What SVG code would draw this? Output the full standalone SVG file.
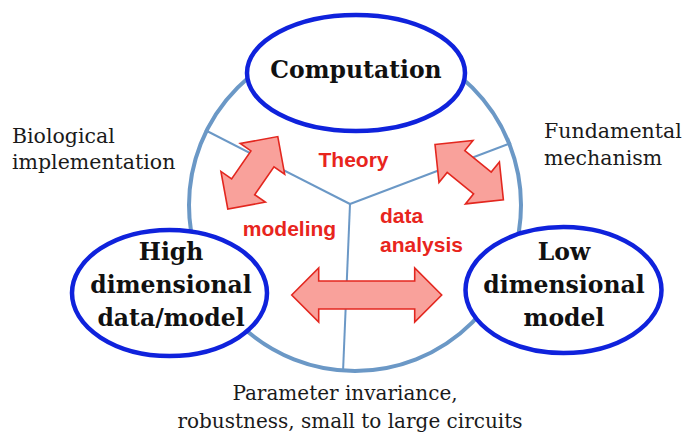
<svg xmlns="http://www.w3.org/2000/svg" width="686" height="440" viewBox="0 0 686 440">
<defs>
<style>
.ring{fill:none;stroke:#6b98c6;stroke-width:4}
.div{fill:none;stroke:#6b98c6;stroke-width:2}
.node{fill:#ffffff;stroke:#0f22dc;stroke-width:4.5}
.arr{fill:#f9a19b;stroke:#e3271f;stroke-width:1.6;stroke-linejoin:miter}
.bold{font-family:"DejaVu Serif","Liberation Serif",serif;font-weight:bold;fill:#111111;text-anchor:middle}
.plain{font-family:"DejaVu Serif","Liberation Serif",serif;font-size:20.5px;fill:#1a1a1a}
.foot{font-family:"DejaVu Serif","Liberation Serif",serif;font-size:20px;fill:#1a1a1a;text-anchor:middle}
.red{font-family:"Liberation Sans",Arial,sans-serif;font-weight:bold;font-size:21px;fill:#e8251d}
</style>
<path id="dbl" d="M-44,0 L-17,-27 L-17,-14 L17,-14 L17,-27 L44,0 L17,27 L17,14 L-17,14 L-17,27 Z"/>
</defs>
<rect width="686" height="440" fill="#ffffff"/>
<g id="connectors">
<circle class="ring" cx="355" cy="205" r="166"/>
<line class="div" x1="205" y1="130" x2="350" y2="204"/>
<line class="div" x1="511" y1="143" x2="350" y2="204"/>
<line class="div" x1="350" y1="204" x2="343" y2="372"/>
<use href="#dbl" class="arr" transform="translate(252.8,172.8) rotate(-55.4)"/>
<use href="#dbl" class="arr" transform="translate(469.2,172.2) rotate(39)"/>
<path class="arr" d="M291.7,295 L318.7,268 L318.7,281 L414.7,281 L414.7,268 L441.7,295 L414.7,322 L414.7,309 L318.7,309 L318.7,322 Z"/>
</g>
<g id="computation">
<ellipse class="node" cx="356" cy="73" rx="109" ry="58"/>
<text class="bold" x="356" y="78" font-size="23.5">Computation</text>
</g>
<g id="high">
<ellipse class="node" cx="169.5" cy="293" rx="97.5" ry="63"/>
<text class="bold" x="171" y="260" font-size="23.5">High</text>
<text class="bold" x="171" y="293" font-size="23.5">dimensional</text>
<text class="bold" x="171" y="326" font-size="23.5">data/model</text>
</g>
<g id="low">
<ellipse class="node" cx="563.5" cy="290" rx="98" ry="63"/>
<text class="bold" x="564" y="260" font-size="23.5">Low</text>
<text class="bold" x="564" y="293" font-size="23.5">dimensional</text>
<text class="bold" x="564" y="326" font-size="23.5">model</text>
</g>
<g id="labels">
<text class="red" x="353.5" y="167" text-anchor="middle">Theory</text>
<text class="red" x="289.5" y="236" text-anchor="middle">modeling</text>
<text class="red" x="380" y="223">data</text>
<text class="red" x="380" y="252">analysis</text>
<text class="plain" x="12" y="143">Biological</text>
<text class="plain" x="12" y="169">implementation</text>
<text class="plain" x="544" y="138">Fundamental</text>
<text class="plain" x="544" y="165">mechanism</text>
<text class="foot" x="345" y="400">Parameter invariance,</text>
<text class="foot" x="350" y="428">robustness, small to large circuits</text>
</g>
</svg>
